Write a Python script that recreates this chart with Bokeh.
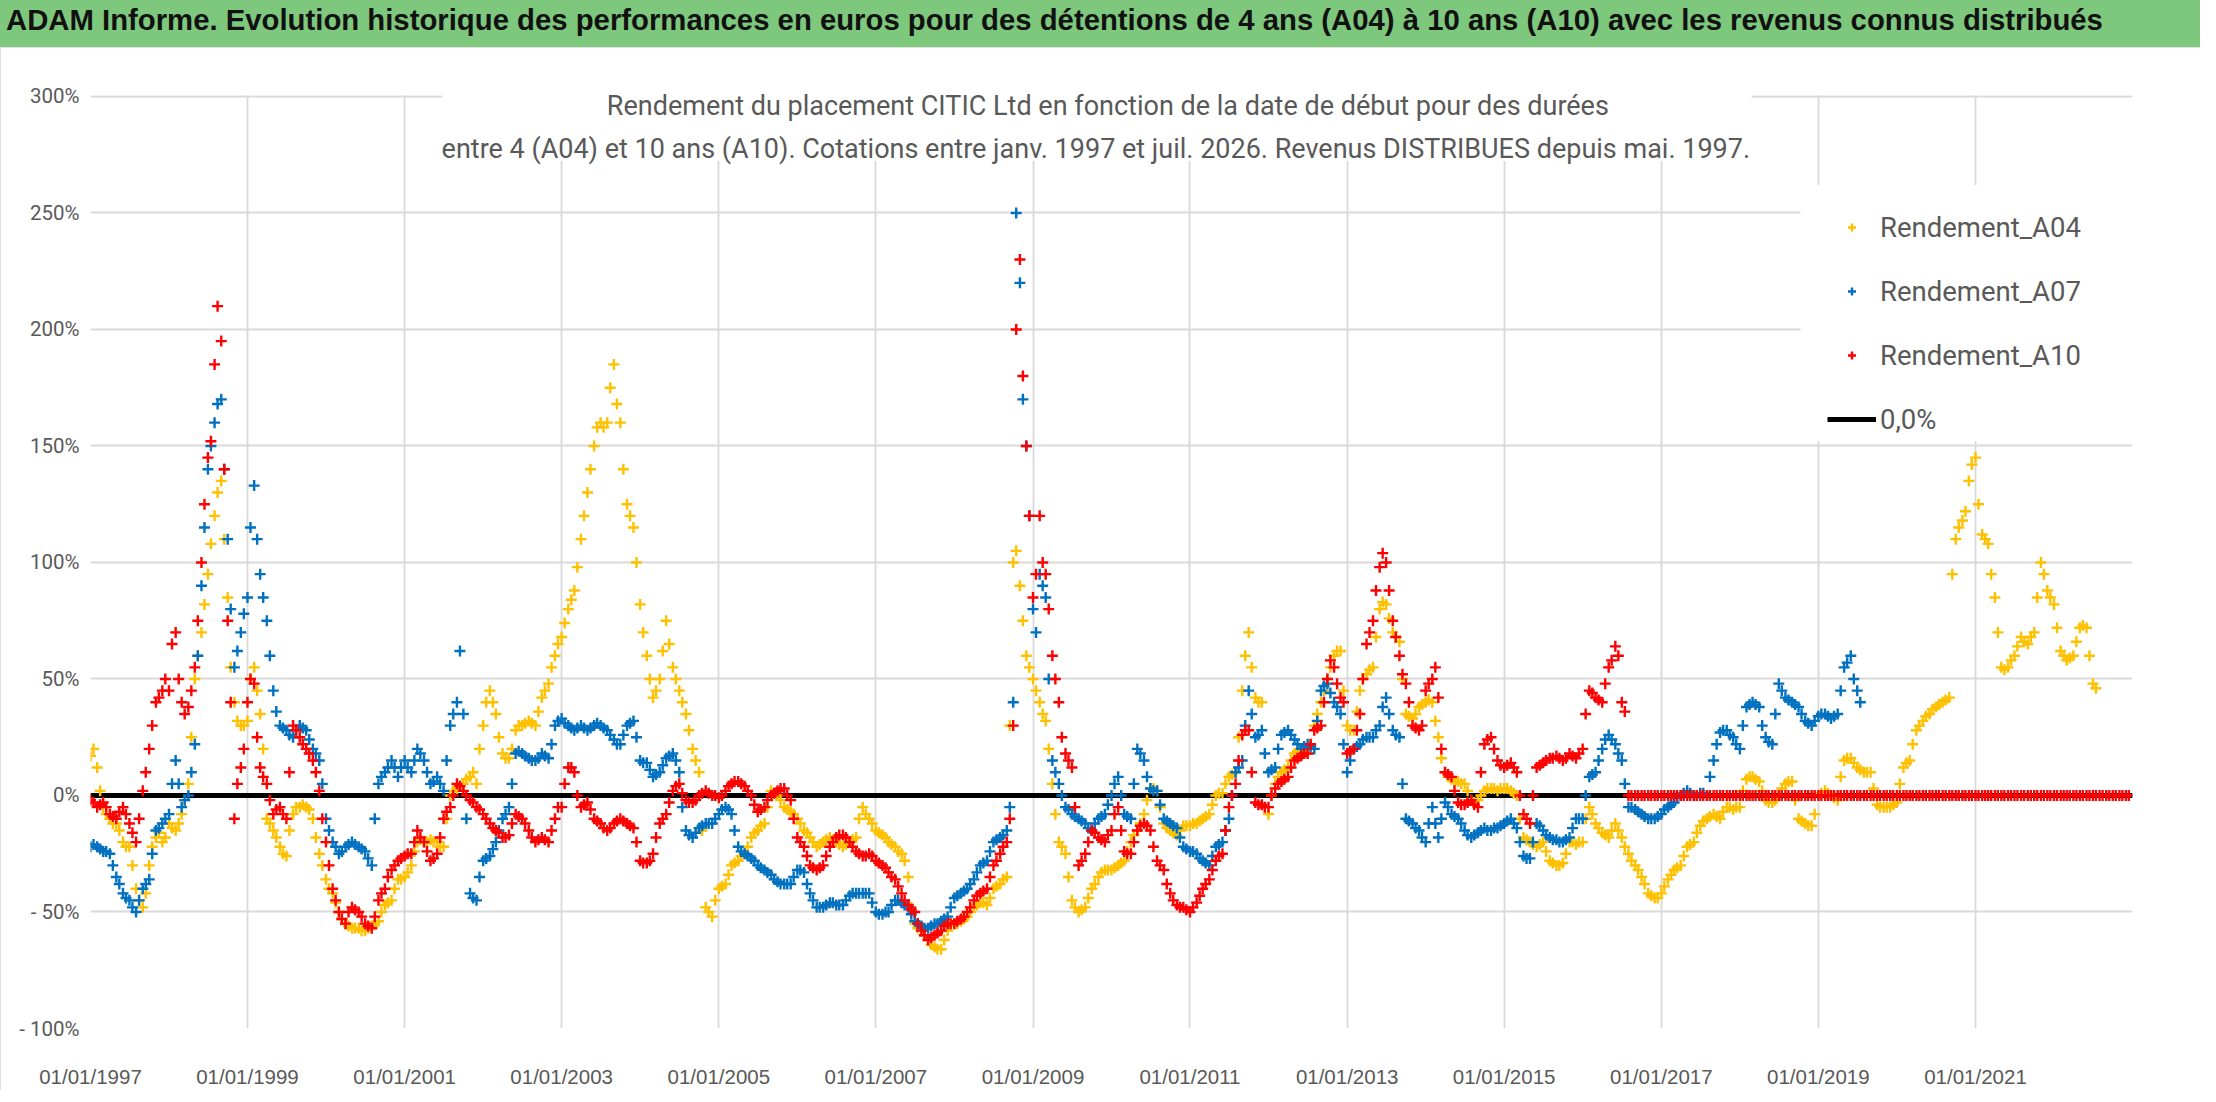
import pandas as pd
from bokeh.plotting import figure
from bokeh.layouts import column
from bokeh.models import (Range1d, FixedTicker, DatetimeTickFormatter, Legend, LegendItem,
                          BoxAnnotation, Label, Div)
from bokeh.embed import file_html
from bokeh.resources import INLINE

TITLE = ("ADAM Informe. Evolution historique des performances en euros pour des détentions "
         "de 4 ans (A04) à 10 ans (A10) avec les revenus connus distribués")
SUB1 = "Rendement du placement CITIC Ltd en fonction de la date de début pour des durées"
SUB2 = ("entre 4 (A04) et 10 ans (A10). Cotations entre janv. 1997 et juil. 2026. "
        "Revenus DISTRIBUES depuis mai. 1997.")

# rendement (%) selon la date de début (1er et 15 de chaque mois), une ligne par année
a04 = [
    [17, 20, 12, 2, -5, -8, -10, -12, -12, -15, -20, -22, -22, -30, -40, -45, -48, -42, -30, -22, -18, -16, -20, -18],   # 1997
    [-12, -14, -15, -12, -8, -2, 5, 25, 50, 60, 70, 82, 95, 108, 120, 130, 135, 110, 85, 55, 40, 32, 30, 30],             # 1998
    [32, 50, 55, 45, 35, 20, -10, -12, -15, -18, -22, -25, -26, -15, -8, -5, -5, -4, -5, -6, -10, -18, -25, -30],         # 1999
    [-36, -40, -42, -46, -50, -53, -55, -56, -57, -57, -57, -58, -58, -57, -56, -55, -54, -50, -47, -46, -45, -40, -36, -36],  # 2000
    [-35, -33, -30, -24, -20, -19, -20, -20, -19, -20, -20, -22, -22, -10, 0, 2, 3, 4, 5, 7, 8, 10, 5, 20],               # 2001
    [30, 40, 45, 40, 35, 25, 18, 16, 16, 20, 28, 30, 30, 31, 32, 31, 30, 36, 42, 45, 48, 55, 60, 65],                     # 2002
    [68, 74, 80, 84, 88, 98, 110, 120, 130, 140, 150, 158, 160, 158, 160, 175, 185, 168, 160, 140, 125, 120, 115, 100],   # 2003
    [82, 70, 60, 50, 42, 45, 50, 62, 75, 65, 55, 50, 45, 40, 35, 28, 20, 15, 10, -15, -48, -50, -52, -45],               # 2004
    [-40, -39, -38, -34, -30, -29, -28, -26, -25, -22, -18, -16, -15, -13, -12, -5, 2, 1, 0, -2, -5, -6, -7, -8],         # 2005
    [-10, -12, -15, -16, -18, -20, -22, -21, -20, -19, -18, -19, -20, -21, -22, -21, -20, -19, -18, -10, -5, -8, -10, -12],  # 2006
    [-15, -16, -17, -18, -20, -21, -22, -24, -25, -28, -35, -48, -55, -57, -58, -60, -62, -64, -65, -66, -66, -62, -58, -56],  # 2007
    [-55, -55, -54, -53, -52, -50, -48, -47, -46, -46, -47, -44, -40, -39, -38, -36, -35, 30, 100, 105, 90, 75, 60, 55],  # 2008
    [50, 45, 40, 35, 32, 20, 5, -8, -20, -22, -25, -35, -45, -48, -50, -49, -48, -44, -40, -38, -35, -33, -32, -32],      # 2009
    [-32, -31, -30, -29, -28, -24, -20, -17, -15, -12, -8, -2, 3, 3, 2, -5, -12, -14, -15, -16, -17, -15, -13, -13],      # 2010
    [-13, -12, -12, -11, -10, -9, -8, -4, 0, 1, 1, 5, 8, 9, 10, 25, 45, 60, 70, 55, 42, 40, 40, -5],                      # 2011
    [-8, 0, 5, 8, 10, 11, 12, 15, 18, 19, 20, 19, 18, 22, 30, 35, 40, 45, 50, 55, 60, 62, 62, 45],                        # 2012
    [30, 28, 28, 36, 45, 50, 52, 54, 55, 68, 80, 83, 82, 76, 70, 68, 66, 50, 35, 34, 33, 35, 38, 39],                     # 2013
    [40, 41, 40, 32, 25, 16, 10, 8, 7, 6, 6, 5, 5, 2, -2, -3, -2, 0, 2, 3, 3, 3, 2, 3],                                   # 2014
    [3, 3, 2, 1, 0, -10, -18, -19, -20, -21, -22, -21, -20, -24, -28, -29, -30, -30, -29, -25, -20, -20, -21, -20],       # 2015
    [-20, -10, -5, -8, -12, -14, -16, -17, -18, -15, -12, -15, -18, -22, -25, -28, -30, -32, -35, -38, -42, -43, -44, -44],  # 2016
    [-42, -39, -36, -34, -32, -31, -30, -26, -22, -21, -20, -16, -13, -11, -10, -9, -8, -9, -10, -7, -5, -5, -6, -5],     # 2017
    [-5, 2, 7, 8, 8, 7, 6, 2, -2, -3, -3, -2, 0, 3, 5, 6, 6, -2, -10, -11, -12, -13, -13, -8],                            # 2018
    [0, 1, 2, 1, 0, -1, -2, 8, 15, 16, 16, 14, 12, 11, 10, 10, 10, 3, -4, -5, -5, -5, -5, -4],                            # 2019
    [-3, 5, 12, 14, 15, 22, 28, 30, 32, 34, 35, 37, 38, 39, 40, 41, 42, 95, 110, 115, 118, 122, 135, 142],                # 2020
    [145, 125, 112, 110, 108, 95, 85, 70, 55, 54, 55, 58, 60, 64, 68, 66, 65, 68, 70, 85, 100, 95, 88, 85],               # 2021
    [82, 72, 62, 60, 58, 59, 60, 66, 72, 73, 72, 60, 48, 46],                                                              # 2022
]

a07 = [
    [-22, -21, -22, -23, -24, -24, -25, -30, -35, -38, -42, -44, -45, -48, -50, -45, -40, -38, -36, -25, -15, -14, -12, -10],  # 1997
    [-8, 5, 15, 5, -5, -2, 0, 10, 22, 60, 90, 115, 140, 150, 160, 168, 170, 140, 110, 80, 55, 62, 70, 78],               # 1998
    [85, 115, 133, 110, 95, 85, 75, 60, 45, 36, 30, 29, 28, 26, 25, 28, 30, 29, 28, 24, 20, 18, 15, 5],                   # 1999
    [-10, -15, -20, -22, -25, -24, -22, -21, -20, -21, -22, -23, -24, -27, -30, -10, 5, 8, 10, 12, 15, 12, 8, 12],        # 2000
    [15, 12, 10, 15, 20, 18, 15, 10, 5, 6, 8, 5, 2, 15, 30, 35, 40, 62, 35, -10, -42, -44, -45, -35],                     # 2001
    [-28, -27, -26, -23, -20, -15, -10, -8, -5, 5, 18, 19, 18, 17, 16, 15, 15, 16, 18, 17, 16, 22, 30, 32],               # 2002
    [33, 31, 30, 29, 28, 29, 30, 29, 28, 29, 30, 31, 30, 29, 28, 26, 24, 22, 22, 26, 30, 31, 32, 25],                     # 2003
    [15, 14, 14, 11, 8, 9, 10, 13, 16, 17, 18, 15, 10, -5, -15, -17, -18, -16, -14, -13, -12, -12, -12, -10],            # 2004
    [-8, -6, -5, -6, -8, -15, -22, -24, -25, -26, -27, -28, -30, -31, -32, -33, -34, -36, -37, -38, -38, -38, -38, -35],  # 2005
    [-32, -32, -33, -38, -42, -45, -48, -48, -48, -47, -46, -46, -47, -47, -47, -45, -43, -42, -42, -42, -42, -42, -42, -46],  # 2006
    [-50, -51, -51, -50, -50, -47, -45, -45, -46, -47, -48, -51, -54, -55, -56, -57, -57, -56, -55, -55, -54, -53, -52, -48],  # 2007
    [-44, -43, -42, -41, -40, -38, -36, -33, -30, -29, -28, -24, -20, -19, -18, -17, -15, -5, 40, 250, 220, 170, 150, 120],  # 2008
    [80, 70, 95, 90, 85, 50, 15, 10, 5, 0, -5, -6, -8, -9, -10, -11, -12, -14, -15, -12, -10, -9, -8, -4],                # 2009
    [0, 5, 8, 0, -8, -9, -10, 5, 20, 18, 15, 8, 3, 2, 2, -4, -10, -11, -12, -13, -14, -18, -22, -23],                     # 2010
    [-24, -24, -25, -27, -28, -29, -30, -26, -22, -21, -20, -15, -10, 0, 10, 12, 15, 30, 45, 35, 25, 26, 28, 18],         # 2011
    [10, 11, 12, 20, 26, 27, 28, 26, 24, 22, 20, 21, 22, 21, 20, 32, 45, 47, 48, 44, 40, 38, 35, 22],                     # 2012
    [10, 15, 20, 21, 22, 24, 25, 25, 25, 28, 30, 38, 42, 35, 28, 26, 25, 5, -10, -11, -12, -14, -15, -18],                # 2013
    [-20, -12, -5, -12, -18, -10, -3, -5, -8, -9, -10, -12, -15, -17, -18, -17, -16, -15, -14, -15, -15, -14, -14, -13],  # 2014
    [-12, -11, -10, -12, -14, -20, -26, -27, -27, -20, -12, -13, -15, -17, -18, -19, -19, -20, -20, -19, -18, -14, -10, -10],  # 2015
    [-10, 0, 8, 9, 10, 15, 20, 24, 26, 24, 22, 18, 15, 5, -5, -5, -6, -7, -8, -9, -10, -10, -10, -9],                     # 2016
    [-8, -6, -5, -4, -3, -1, 0, 1, 2, 1, 0, 0, 1, 1, 0, 8, 15, 22, 27, 28, 28, 26, 25, 22],                               # 2017
    [20, 30, 38, 39, 40, 39, 38, 30, 25, 23, 22, 35, 48, 45, 42, 41, 40, 39, 38, 35, 32, 31, 30, 32],                     # 2018
    [34, 35, 35, 34, 33, 34, 35, 45, 55, 57, 60, 50, 45, 40],                                                              # 2019
]

a10 = [
    [-2, -3, -5, -4, -3, -5, -8, -9, -10, -7, -5, -8, -12, -16, -20, -10, 2, 10, 20, 30, 40, 42, 45, 50],                 # 1997
    [45, 65, 70, 50, 40, 35, 38, 45, 55, 75, 100, 125, 145, 152, 185, 210, 195, 140, 75, 40, -10, 5, 12, 20],             # 1998
    [40, 50, 48, 25, 12, 8, 5, -2, -8, -6, -5, -8, -10, 10, 30, 28, 25, 22, 20, 18, 15, 10, 2, -10],                      # 1999
    [-20, -30, -40, -45, -50, -53, -55, -50, -48, -49, -50, -52, -55, -56, -57, -52, -45, -42, -40, -35, -32, -30, -28, -27],  # 2000
    [-26, -25, -25, -20, -15, -18, -20, -24, -28, -27, -25, -18, -10, -7, -5, 0, 5, 4, 2, 0, -2, -3, -5, -6],             # 2001
    [-8, -10, -12, -14, -15, -16, -18, -18, -17, -12, -8, -9, -10, -12, -15, -18, -20, -19, -18, -19, -20, -15, -10, -5],  # 2002
    [-5, 5, 12, 12, 10, 0, -5, -4, -3, -6, -10, -11, -12, -14, -15, -14, -12, -11, -10, -11, -12, -13, -14, -20],         # 2003
    [-28, -29, -29, -28, -25, -18, -12, -10, -8, -3, 2, 4, 5, 1, -2, -3, -3, -2, 0, 1, 2, 1, 0, 0],                       # 2004
    [-1, 0, 2, 4, 5, 6, 6, 5, 4, 2, 0, -4, -7, -6, -5, -2, 0, 1, 2, 3, 3, 0, -2, -10],                                    # 2005
    [-18, -20, -22, -26, -30, -31, -32, -31, -30, -26, -22, -20, -18, -17, -17, -18, -20, -22, -24, -25, -26, -26, -25, -26],  # 2006
    [-28, -29, -30, -31, -33, -35, -36, -39, -42, -45, -47, -49, -50, -55, -58, -60, -62, -61, -60, -59, -58, -56, -55, -55],  # 2007
    [-55, -54, -53, -52, -50, -48, -45, -43, -42, -41, -40, -35, -30, -28, -25, -22, -20, -10, 30, 200, 230, 180, 150, 120],  # 2008
    [85, 95, 120, 100, 95, 80, 60, 50, 40, 25, 18, 15, 12, -5, -30, -28, -25, -20, -15, -16, -18, -19, -20, -17],         # 2009
    [-15, -8, -5, -15, -24, -25, -25, -20, -15, -13, -12, -13, -15, -22, -28, -30, -32, -38, -42, -45, -47, -48, -48, -49],  # 2010
    [-50, -48, -46, -43, -40, -38, -36, -32, -28, -26, -25, -15, -5, 0, 5, 15, 26, 28, 28, 10, -3, -4, -4, -5],           # 2011
    [-5, 0, 3, 5, 6, 7, 8, 12, 15, 16, 17, 18, 18, 22, 28, 29, 30, 40, 50, 58, 55, 48, 42, 40],                           # 2012
    [18, 19, 20, 28, 35, 50, 65, 70, 75, 88, 98, 104, 100, 88, 75, 68, 60, 52, 48, 40, 30, 29, 28, 30],                   # 2013
    [45, 48, 50, 55, 42, 20, 10, 9, 8, 2, -3, -4, -4, -3, -2, -4, -5, 10, 22, 24, 25, 20, 15, 13],                        # 2014
    [12, 13, 14, 12, 10, 0, -8, -10, -12, 0, 12, 13, 14, 15, 16, 16, 17, 16, 15, 16, 18, 17, 16, 18],                     # 2015
    [20, 35, 45, 44, 42, 41, 40, 48, 55, 58, 64, 60, 40, 36, 0, 0, 0, 0, 0, 0, 0, 0, 0, 0],                               # 2016
    [0, 0, 0, 0, 0, 0, 0, 0, 0, 0, 0, 0, 0, 0, 0, 0, 0, 0, 0, 0, 0, 0, 0, 0],                                             # 2017
    [0, 0, 0, 0, 0, 0, 0, 0, 0, 0, 0, 0, 0, 0, 0, 0, 0, 0, 0, 0, 0, 0, 0, 0],                                             # 2018
    [0, 0, 0, 0, 0, 0, 0, 0, 0, 0, 0, 0, 0, 0, 0, 0, 0, 0, 0, 0, 0, 0, 0, 0],                                             # 2019
    [0, 0, 0, 0, 0, 0, 0, 0, 0, 0, 0, 0, 0, 0, 0, 0, 0, 0, 0, 0, 0, 0, 0, 0],                                             # 2020
    [0, 0, 0, 0, 0, 0, 0, 0, 0, 0, 0, 0, 0, 0, 0, 0, 0, 0, 0, 0, 0, 0, 0, 0],                                             # 2021
    [0, 0, 0, 0, 0, 0, 0, 0, 0, 0, 0, 0, 0, 0, 0, 0, 0, 0, 0, 0, 0, 0, 0, 0],                                             # 2022
]

zero_dates = ["1997-01-01", "2023-01-01"]
zero_vals = [0, 0]

tick_years = [1997, 1999, 2001, 2003, 2005, 2007, 2009, 2011, 2013, 2015, 2017, 2019, 2021]
y_ticks = [-100, -50, 0, 50, 100, 150, 200, 250, 300]
y_labels = ["- 100%", "- 50%", "0%", "50%", "100%", "150%", "200%", "250%", "300%"]


def ms(d):
    return pd.Timestamp(d).value / 1e6


def series(rows):
    # one row per year, points on the 1st and the 15th of each month
    xs, ys = [], []
    for i, row in enumerate(rows):
        xs.extend(pd.date_range(f"{1997 + i}-01-01", periods=len(row), freq="SMS"))
        ys.extend(row)
    return xs, ys


x04, y04 = series(a04)
x07, y07 = series(a07)
x10, y10 = series(a10)

# y range reaches a bit above 300 % so the first subtitle line is not clipped
p = figure(width=2200, height=1043, x_axis_type="datetime",
           x_range=Range1d(ms("1997-01-01"), ms("2023-01-01")),
           y_range=Range1d(-100, 315),
           output_backend="svg", toolbar_location=None, tools="",
           min_border_left=90, min_border_right=68, min_border_top=14, min_border_bottom=60,
           styles={"outline": "2px solid #D6D6D6", "outline-offset": "-2px"})
p.outline_line_color = None
p.background_fill_color = "white"
p.border_fill_color = "white"

xt = FixedTicker(ticks=[ms(f"{y}-01-01") for y in tick_years])
yt = FixedTicker(ticks=y_ticks)
p.xaxis.ticker = xt
p.xgrid.ticker = xt
p.yaxis.ticker = yt
p.ygrid.ticker = yt
p.xaxis.formatter = DatetimeTickFormatter(years="%d/%m/%Y", months="%d/%m/%Y", days="%d/%m/%Y")
p.yaxis.major_label_overrides = dict(zip(y_ticks, y_labels))

for g in (p.xgrid, p.ygrid):
    g.grid_line_color = "#D9D9D9"
    g.grid_line_width = 1.8

for ax in (p.xaxis, p.yaxis):
    ax.axis_line_color = None
    ax.major_tick_line_color = None
    ax.minor_tick_line_color = None
    ax.major_tick_out = 0
    ax.major_tick_in = 0
    ax.major_label_text_color = "#595959"
p.xaxis.major_label_text_font = "Liberation Sans"
p.xaxis.major_label_text_font_size = "20.5px"
p.yaxis.major_label_text_font = "Roboto"
p.yaxis.major_label_text_font_size = "20.5px"
p.xaxis.major_label_standoff = 36
p.yaxis.major_label_standoff = 11

# white areas: above the 300 % line, behind the subtitle, behind the legend
p.add_layout(BoxAnnotation(bottom=300.5, top=330, fill_color="white", fill_alpha=1,
                           line_color=None, level="underlay"))
p.add_layout(BoxAnnotation(left=ms("2001-06-25"), right=ms("2018-02-25"), bottom=272.3, top=330,
                           fill_color="white", fill_alpha=1, line_color=None, level="underlay"))
p.add_layout(BoxAnnotation(left=ms("2018-10-10"), right=ms("2023-03-01"), bottom=152, top=262,
                           fill_color="white", fill_alpha=1, line_color=None, level="underlay"))

rz = p.line(pd.to_datetime(zero_dates), zero_vals, line_color="black", line_width=5)
mk = dict(marker="cross", size=11, line_width=2.4)
r04 = p.scatter(x04, y04, color="#FFC000", **mk)
r07 = p.scatter(x07, y07, color="#0070C0", **mk)
r10 = p.scatter(x10, y10, color="#FF0000", **mk)

for txt, xd, yv in ((SUB1, "2009-12-15", 296.1), (SUB2, "2009-10-20", 277.3)):
    p.add_layout(Label(x=ms(xd), y=yv, text=txt, text_align="center",
                       text_baseline="alphabetic", text_font="Roboto",
                       text_font_size="27px", text_color="#595959"))

legend = Legend(items=[LegendItem(label="Rendement_A04", renderers=[r04]),
                       LegendItem(label="Rendement_A07", renderers=[r07]),
                       LegendItem(label="Rendement_A10", renderers=[r10]),
                       LegendItem(label="0,0%", renderers=[rz])],
                location=(1737, 589), margin=0, padding=12, spacing=24,
                label_height=40, glyph_height=20, glyph_width=49, label_standoff=4,
                label_text_font="Roboto", label_text_font_size="27.5px",
                label_text_color="#595959", border_line_color=None,
                background_fill_color="white", background_fill_alpha=1)
p.add_layout(legend)

title_div = Div(
    text=('<div style="font-family:\'Liberation Sans\';font-weight:bold;font-size:29.3px;'
          'line-height:40px;color:#111;padding-left:6px;white-space:nowrap;">'
          + TITLE + '</div>'),
    width=2200, height=47, margin=0, styles={"background-color": "#7EC87E"})

layout = column(title_div, p, spacing=0)
open("out.html", "w").write(file_html(layout, INLINE))
